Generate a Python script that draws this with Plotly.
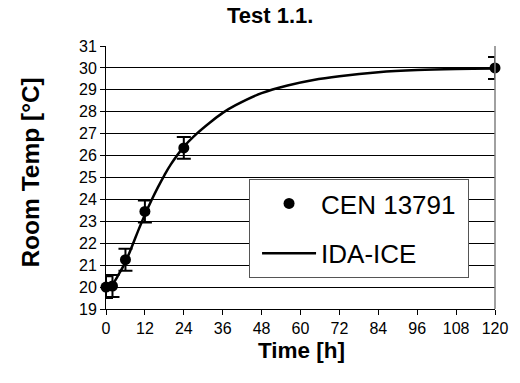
import plotly.graph_objects as go

# Measured points (CEN 13791)
cen_t = [0, 2, 6, 12, 24, 120]
cen_T = [20.0, 20.05, 21.25, 23.45, 26.35, 30.0]
cen_err = [0.5, 0.5, 0.5, 0.5, 0.5, 0.5]

# Simulated curve (IDA-ICE)
ida_t = [0, 2, 4, 6, 8, 10, 12, 14, 16, 18, 20, 24, 28, 32, 36, 40, 48, 56, 64, 72, 84, 96, 108, 120]
ida_T = [20.0, 20.15, 20.6, 21.15, 21.85, 22.6, 23.3, 23.95, 24.55, 25.1, 25.6, 26.4, 27.0, 27.5,
         27.95, 28.3, 28.85, 29.2, 29.45, 29.62, 29.8, 29.9, 29.95, 29.97]

x_ticks = [0, 12, 24, 36, 48, 60, 72, 84, 96, 108, 120]
y_ticks = list(range(19, 32))

FONT = "Liberation Sans, Arial, sans-serif"

fig = go.Figure()
fig.add_trace(go.Scatter(
    x=cen_t, y=cen_T, mode="markers", name="CEN 13791\u00a0",
    marker=dict(color="black", size=11),
    error_y=dict(type="data", array=cen_err, color="black", thickness=2, width=7),
    cliponaxis=False, legendgroup="a",
))
fig.add_trace(go.Scatter(
    x=ida_t, y=ida_T, mode="lines", name="IDA-ICE", line_shape="spline",
    line=dict(color="black", width=2.5), cliponaxis=False, legendgroup="b",
))

L, R, T, B = 106, 17, 46, 74
W, H = 520, 383
pw, ph = W - L - R, H - T - B

fig.update_layout(
    width=W, height=H,
    margin=dict(l=L, r=R, t=T, b=B),
    paper_bgcolor="white", plot_bgcolor="white",
    font=dict(family=FONT, color="black", size=16),
    showlegend=True,
    legend=dict(
        x=(252 - L) / pw, y=(H - B - 179) / ph, xanchor="left", yanchor="top",
        bgcolor="white", bordercolor="#555555", borderwidth=1,
        font=dict(size=26, family=FONT),
        traceorder="grouped", tracegroupgap=13, itemwidth=54, indentation=7,
    ),
    annotations=[
        dict(text="<b>Test 1.1.</b>", xref="paper", yref="paper",
             x=(273.5 - L) / pw, y=1 + (T - 16) / ph, xanchor="center", yanchor="middle",
             showarrow=False, font=dict(size=22, family=FONT)),
        dict(text="<b>Time [h]</b>", xref="paper", yref="paper",
             x=(306 - L) / pw, y=-(350 - (H - B)) / ph, xanchor="center", yanchor="middle",
             showarrow=False, font=dict(size=22.5, family=FONT)),
        dict(text="<b>Room Temp [°C]</b>", xref="paper", yref="paper", textangle=-90,
             x=-(L - 28) / pw, y=(H - B - 173) / ph, xanchor="center", yanchor="middle",
             showarrow=False, font=dict(size=24.5, family=FONT)),
    ],
    shapes=[
        dict(type="line", xref="paper", yref="paper", x0=1, x1=1, y0=0, y1=1,
             line=dict(color="#808080", width=1.5)),
    ],
)
fig.update_xaxes(
    range=[0, 120], tickvals=x_ticks, ticktext=[str(v) for v in x_ticks],
    showgrid=False, zeroline=False, showline=True, linecolor="black", linewidth=1,
    ticks="outside", ticklen=5, tickcolor="black", tickfont=dict(size=16),
)
fig.update_yaxes(
    range=[19, 31], tickvals=y_ticks, ticktext=[str(v) for v in y_ticks],
    showgrid=True, gridcolor="black", gridwidth=1, zeroline=False,
    showline=True, linecolor="black", linewidth=1,
    ticks="outside", ticklen=5, tickcolor="black", tickfont=dict(size=16),
)

fig.write_html("out.html")
